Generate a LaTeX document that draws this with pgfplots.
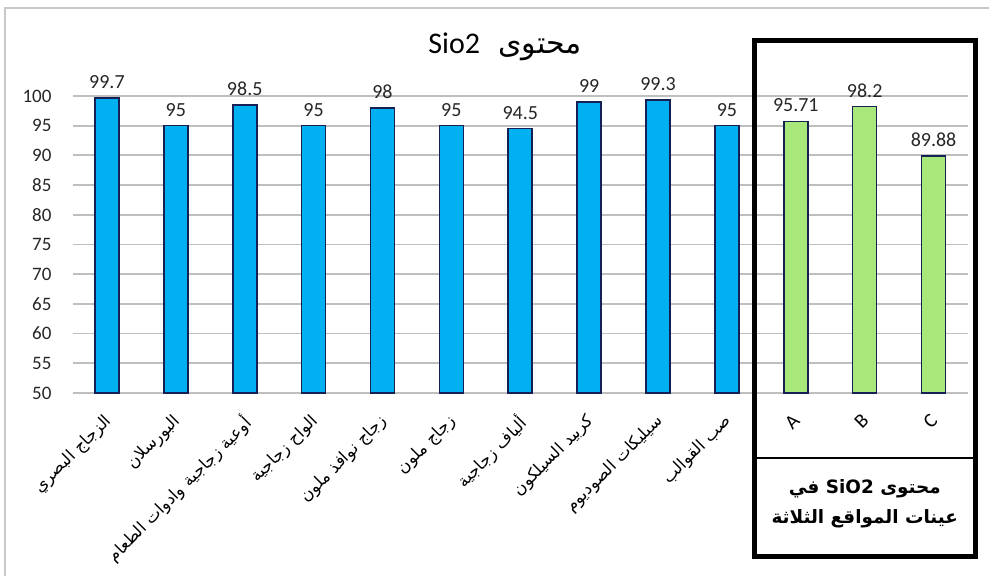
\documentclass[border=0pt]{standalone}
\usepackage{fontspec}
\usepackage{pgfplots}
\pgfplotsset{compat=1.18}
\setmainfont{Carlito}
\newfontfamily\arabicfont[Script=Arabic]{DejaVu Sans}
\TeXXeTstate=1
\definecolor{barblue}{RGB}{0,176,240}
\definecolor{bargreen}{RGB}{168,232,122}
\definecolor{baredge}{RGB}{22,32,84}
\definecolor{gridgray}{RGB}{191,191,191}
\definecolor{framegray}{RGB}{200,200,200}
\newcommand{\lat}[1]{{\fontsize{10}{12}\selectfont #1}}

\begin{document}
\begin{tikzpicture}
\useasboundingbox (0,0) rectangle (494.5pt,288pt);
% outer chart frame
\draw[framegray, line width=0.9pt] (2.5pt,-2pt) -- (2.5pt,284pt) -- (497pt,284pt);

\begin{axis}[
  at={(36.25pt,91.5pt)}, anchor=south west,
  scale only axis, width=447.75pt, height=148.5pt,
  xmin=-0.5, xmax=12.5, ymin=50, ymax=100,
  ytick={50,55,...,100},
  xtick={0,...,12},
  xticklabels={
    {\arabicfont\beginR الزجاج البصري\endR},
    {\arabicfont\beginR البورسلان\endR},
    {\arabicfont\beginR أوعية زجاجية وادوات الطعام\endR},
    {\arabicfont\beginR الواح زجاجية\endR},
    {\arabicfont\beginR زجاج نوافذ ملون\endR},
    {\arabicfont\beginR زجاج ملون\endR},
    {\arabicfont\beginR ألياف زجاجية\endR},
    {\arabicfont\beginR كربيد السيلكون\endR},
    {\arabicfont\beginR سيليكات الصوديوم\endR},
    {\arabicfont\beginR صب القوالب\endR},
    \lat{A}, \lat{B}, \lat{C}},
  axis line style={draw=none},
  major tick length=0pt,
  ymajorgrids, grid style={gridgray, line width=0.9pt},
  /pgf/number format/assume math mode=true,
  yticklabel style={font=\fontsize{9.5}{11}\selectfont, text=black!85, xshift=-7pt},
  xticklabel style={font=\fontsize{8.3}{10}\selectfont, text=black, xshift=-2pt, yshift=-5pt, rotate=45, anchor=north east},
  ybar, bar width=12pt,
  nodes near coords, point meta=explicit symbolic,
  every node near coord/.append style={font=\fontsize{10}{12}\selectfont, text=black!85, yshift=1pt},
  clip=false,
]
\addplot[fill=barblue, draw=baredge, line width=0.8pt, bar shift=0pt] coordinates {
  (0,99.7) [99.7]
  (1,95) [95]
  (2,98.5) [98.5]
  (3,95) [95]
  (4,98) [98]
  (5,95) [95]
  (6,94.5) [94.5]
  (7,99) [99]
  (8,99.3) [99.3]
  (9,95) [95]
};
\addplot[fill=bargreen, draw=baredge, line width=0.8pt, bar shift=0pt] coordinates {
  (10,95.71) [95.71]
  (11,98.2) [98.2]
  (12,89.88) [89.88]
};
\end{axis}

% chart title
\node[font=\fontsize{15}{18}\selectfont] at (252.5pt,264.5pt) {Sio2\hspace{0.6em}{\arabicfont\beginR محتوى\endR}};

% highlighted group of site samples
\draw[line width=2.5pt] (377.25pt,9.5pt) rectangle (487.5pt,267.5pt);
\draw[line width=1pt] (377.25pt,59pt) -- (487.5pt,59pt);
\node[align=center, font=\bfseries\fontsize{9.2}{15}\selectfont] at (432.4pt,36pt)
  {{\arabicfont\beginR محتوى \beginL SiO2\endL{} في\endR}\\ {\arabicfont\beginR عينات المواقع الثلاثة\endR}};
\end{tikzpicture}
\end{document}
